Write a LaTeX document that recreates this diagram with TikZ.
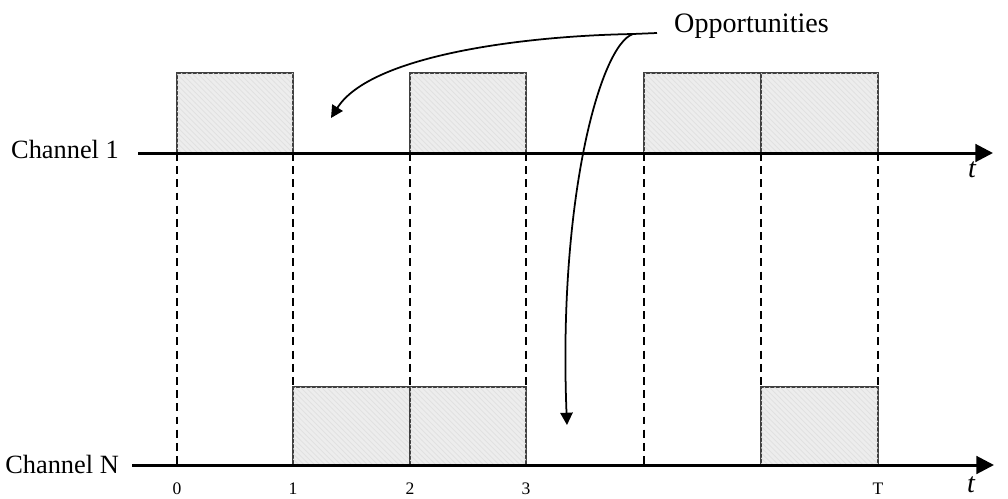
\documentclass[tikz,border=0pt]{standalone}
\usepackage{fontspec}
\setmainfont{Liberation Serif}
\usetikzlibrary{arrows.meta,patterns}
\begin{document}
\begin{tikzpicture}[x=0.02cm,y=-0.02cm,
  axis/.style={line width=1.7pt,-{Triangle[length=10pt,width=10pt]}},
  grid/.style={line width=0.8pt,dash pattern=on 4.5pt off 3pt},
  slot/.style={draw=black!75,line width=0.6pt,fill=black!7,postaction={pattern=north west lines,pattern color=black!12}},
  lbl/.style={font=\fontsize{15}{17}\selectfont},
  tick/.style={font=\fontsize{10}{11}\selectfont},
  tlbl/.style={font=\fontsize{16}{17}\selectfont\itshape},
  curvy/.style={line width=1pt,-{Triangle[length=7pt,width=7pt]}}]
\useasboundingbox (0,0) rectangle (1008,498);
% grid lines
\foreach \x in {177,293,410,526,644,761,878}
  \draw[grid] (\x,153) -- (\x,465);
% top slots
\draw[slot] (177,73) rectangle (293,153);
\draw[slot] (410,73) rectangle (526,153);
\draw[slot] (644,73) rectangle (761,153);
\draw[slot] (761,73) rectangle (878,153);
% bottom slots
\draw[slot] (293,387) rectangle (410,465);
\draw[slot] (410,387) rectangle (526,465);
\draw[slot] (761,387) rectangle (878,465);
% channel labels and axes
\node[lbl,anchor=east] (c1) at (125,149) {Channel 1};
\node[lbl,anchor=east] (cn) at (125,464) {Channel N};
\coordinate (a1s) at (138,153);
\coordinate (a1e) at (993,153);
\coordinate (ans) at (132,465);
\coordinate (ane) at (994,465);
\draw[axis] (a1s) -- (a1e);
\draw[axis] (ans) -- (ane);
\node[tlbl] (t1) at (972,170) {t};
\node[tlbl] (t2) at (971,485) {t};
% tick labels
\node[tick] (l0) at (177,489) {0};
\node[tick] (l1) at (293,489) {1};
\node[tick] (l2) at (410,489) {2};
\node[tick] (l3) at (526,489) {3};
\node[tick] (lT) at (878,489) {T};
% opportunities
\node[anchor=west,font=\fontsize{16}{18}\selectfont] (opp) at (668,26) {Opportunities};
\coordinate (j) at (633,34);
\coordinate (e1) at (331,118);
\coordinate (e2) at (567,425);
\draw[line width=1pt] (opp.west) ++(-11,7) coordinate (os) -- (j);
\draw[curvy] (j) .. controls (520,36) and (370,56) .. (e1);
\draw[curvy] (j) .. controls (600,45) and (558,200) .. (e2);
\end{tikzpicture}
\end{document}
